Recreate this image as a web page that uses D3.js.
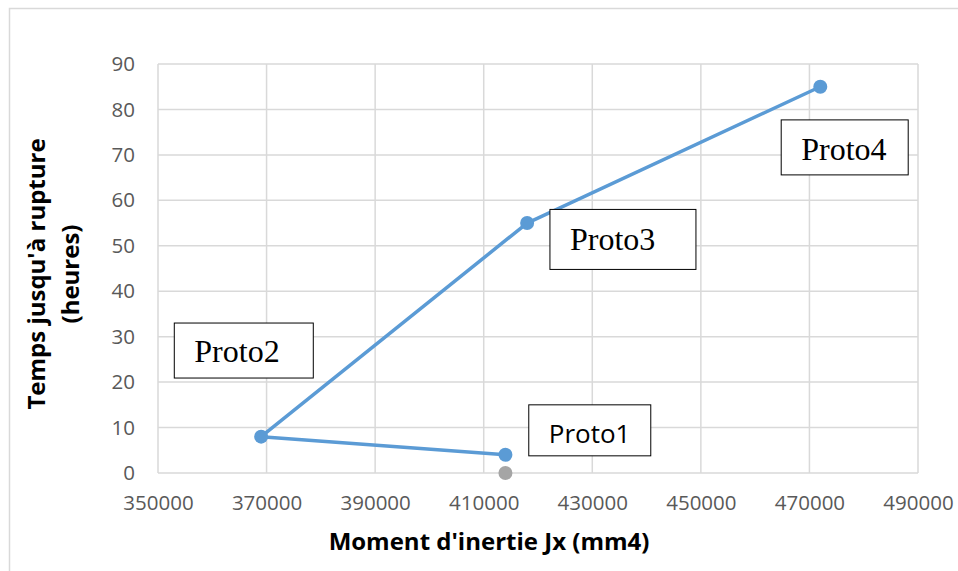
<!DOCTYPE html>
<meta charset="utf-8">
<style>
body{margin:0;background:white}
.tick text{font-family:"Open Sans",sans-serif;font-size:20.5px;fill:#595959}
.grid line{stroke:#d9d9d9;stroke-width:1.5px}
.title{font-family:"Open Sans",sans-serif;font-weight:bold;font-size:24px;fill:#000}
</style>
<svg width="958" height="571"></svg>
<script src="https://d3js.org/d3.v7.min.js"></script>
<script>
// data
var protos = ["Proto1", "Proto2", "Proto3", "Proto4"];
var inertia = [414000, 369000, 418000, 472000];   // mm4
var hours = [4, 8, 55, 85];
var extraX = [414000], extraY = [0];               // grey marker
var xTicks = [350000, 370000, 390000, 410000, 430000, 450000, 470000, 490000];
var yTicks = [0, 10, 20, 30, 40, 50, 60, 70, 80, 90];
// label boxes: top-left corner in data units
var labelAt = [[418300, 15], [353000, 33], [422200, 58], [464800, 77.7]];

var svg = d3.select("svg");
var pLeft = 158, pRight = 918, pTop = 64, pBottom = 473;

svg.append("rect").attr("x", 9.5).attr("y", 8.5).attr("width", 960).attr("height", 580)
  .attr("fill", "none").attr("stroke", "#d9d9d9").attr("stroke-width", 1.5);

var x = d3.scaleLinear().domain([350000, 490000]).range([pLeft, pRight]);
var y = d3.scaleLinear().domain([0, 90]).range([pBottom, pTop]);

// grid
var g = svg.append("g").attr("class", "grid");
g.selectAll(".v").data(xTicks).enter().append("line")
  .attr("x1", d => x(d)).attr("x2", d => x(d)).attr("y1", pTop).attr("y2", pBottom);
g.selectAll(".h").data(yTicks).enter().append("line")
  .attr("x1", pLeft).attr("x2", pRight).attr("y1", d => y(d)).attr("y2", d => y(d));

// axes (labels only)
var xa = svg.append("g").attr("transform", "translate(0," + pBottom + ")")
  .call(d3.axisBottom(x).tickValues(xTicks).tickSize(0).tickPadding(22).tickFormat(d3.format("d")));
xa.select(".domain").remove();
var ya = svg.append("g").attr("transform", "translate(" + pLeft + ",0)")
  .call(d3.axisLeft(y).tickValues(yTicks).tickSize(0).tickPadding(23));
ya.select(".domain").remove();

svg.append("text").attr("class", "title").attr("x", 489).attr("y", 550)
  .attr("text-anchor", "middle").text("Moment d'inertie Jx (mm4)");
var yt = svg.append("text").attr("class", "title").attr("transform", "translate(45,274) rotate(-90)")
  .attr("text-anchor", "middle");
yt.append("tspan").attr("x", 0).attr("dy", 0).text("Temps jusqu'à rupture");
yt.append("tspan").attr("x", 0).attr("dy", 34).text("(heures)");

// series
var pts = inertia.map((v, i) => ({x: v, y: hours[i], name: protos[i]}));
var line = d3.line().x(d => x(d.x)).y(d => y(d.y));
svg.append("path").datum(pts).attr("d", line)
  .attr("fill", "none").attr("stroke", "#5b9bd5").attr("stroke-width", 3.5).attr("stroke-linejoin", "round");
svg.selectAll(".pt").data(pts).enter().append("circle")
  .attr("cx", d => x(d.x)).attr("cy", d => y(d.y)).attr("r", 7).attr("fill", "#5b9bd5");
svg.selectAll(".gp").data(extraX).enter().append("circle")
  .attr("cx", d => x(d)).attr("cy", (d, i) => y(extraY[i])).attr("r", 7).attr("fill", "#a5a5a5");

// label boxes
var boxW = [122, 139, 146, 127], boxH = [51, 55, 60, 55];
var fonts = ['"Open Sans",sans-serif', '"Liberation Serif",serif', '"Liberation Serif",serif', '"Liberation Serif",serif'];
var sizes = [26, 32, 32, 32];
var base = [38, 39, 41, 40];
pts.forEach(function(d, i) {
  var bx = x(labelAt[i][0]), by = y(labelAt[i][1]);
  svg.append("rect").attr("x", bx).attr("y", by).attr("width", boxW[i]).attr("height", boxH[i])
    .attr("fill", "white").attr("stroke", "#000").attr("stroke-width", 1);
  svg.append("text").attr("x", bx + 20).attr("y", by + base[i])
    .attr("font-family", fonts[i]).attr("font-size", sizes[i]).attr("fill", "#000").text(d.name);
});
</script>
